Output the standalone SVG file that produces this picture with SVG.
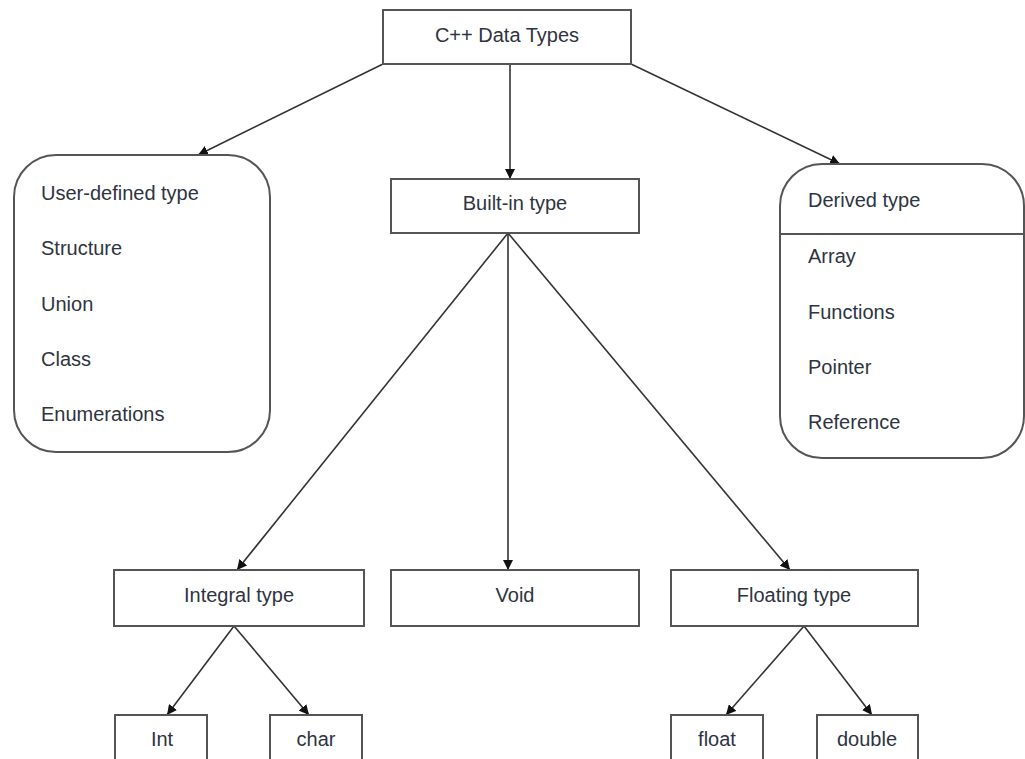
<svg xmlns="http://www.w3.org/2000/svg" width="1025" height="759" viewBox="0 0 1025 759">
<style>
.box{fill:#fff;stroke:#555;stroke-width:2}
.t{font-family:"Liberation Sans",Arial,sans-serif;font-size:20px;fill:#2e3440}
.c{text-anchor:middle}
.ln{stroke:#333;stroke-width:1.6;fill:none;marker-end:url(#ah)}
</style>
<defs>
<marker id="ah" viewBox="0 0 10 10" refX="10" refY="5" markerWidth="10" markerHeight="10" markerUnits="userSpaceOnUse" orient="auto">
<path d="M0,0 L10,5 L0,10 z" fill="#111"/>
</marker>
</defs>
<rect width="1025" height="759" fill="#fff"/>
<g id="connectors">
<line class="ln" x1="383" y1="64" x2="198" y2="155"/>
<line class="ln" x1="510" y1="64" x2="510" y2="179"/>
<line class="ln" x1="631" y1="64" x2="840" y2="164"/>
<line class="ln" x1="508" y1="233" x2="237" y2="570"/>
<line class="ln" x1="508" y1="233" x2="508" y2="570"/>
<line class="ln" x1="508" y1="233" x2="790" y2="570"/>
<line class="ln" x1="234" y1="626" x2="167" y2="715"/>
<line class="ln" x1="234" y1="626" x2="309" y2="715"/>
<line class="ln" x1="804" y1="626" x2="726" y2="715"/>
<line class="ln" x1="804" y1="626" x2="872" y2="715"/>
</g>
<g id="root">
<rect class="box" x="383" y="10" width="248" height="54"/>
<text class="t c" x="507" y="42">C++ Data Types</text>
</g>
<g id="user-defined">
<rect class="box" x="14" y="155" width="256" height="297" rx="42" ry="42"/>
<text class="t" x="41" y="200">User-defined type</text>
<text class="t" x="41" y="255">Structure</text>
<text class="t" x="41" y="311">Union</text>
<text class="t" x="41" y="366">Class</text>
<text class="t" x="41" y="421">Enumerations</text>
</g>
<g id="built-in">
<rect class="box" x="391" y="179" width="248" height="54"/>
<text class="t c" x="515" y="210">Built-in type</text>
</g>
<g id="derived">
<rect class="box" x="780" y="164" width="244" height="294" rx="42" ry="42"/>
<line x1="780" y1="234" x2="1025" y2="234" stroke="#555" stroke-width="2"/>
<text class="t" x="808" y="207">Derived type</text>
<text class="t" x="808" y="263">Array</text>
<text class="t" x="808" y="319">Functions</text>
<text class="t" x="808" y="374">Pointer</text>
<text class="t" x="808" y="429">Reference</text>
</g>
<g id="integral">
<rect class="box" x="114" y="570" width="250" height="56"/>
<text class="t c" x="239" y="602">Integral type</text>
</g>
<g id="void">
<rect class="box" x="391" y="570" width="248" height="56"/>
<text class="t c" x="515" y="602">Void</text>
</g>
<g id="floating">
<rect class="box" x="671" y="570" width="247" height="56"/>
<text class="t c" x="794" y="602">Floating type</text>
</g>
<g id="int">
<rect class="box" x="115" y="715" width="92" height="60"/>
<text class="t c" x="162" y="746">Int</text>
</g>
<g id="char">
<rect class="box" x="270" y="715" width="92" height="60"/>
<text class="t c" x="316" y="746">char</text>
</g>
<g id="float">
<rect class="box" x="671" y="715" width="92" height="60"/>
<text class="t c" x="717" y="746">float</text>
</g>
<g id="double">
<rect class="box" x="817" y="715" width="101" height="60"/>
<text class="t c" x="867" y="746">double</text>
</g>
</svg>
